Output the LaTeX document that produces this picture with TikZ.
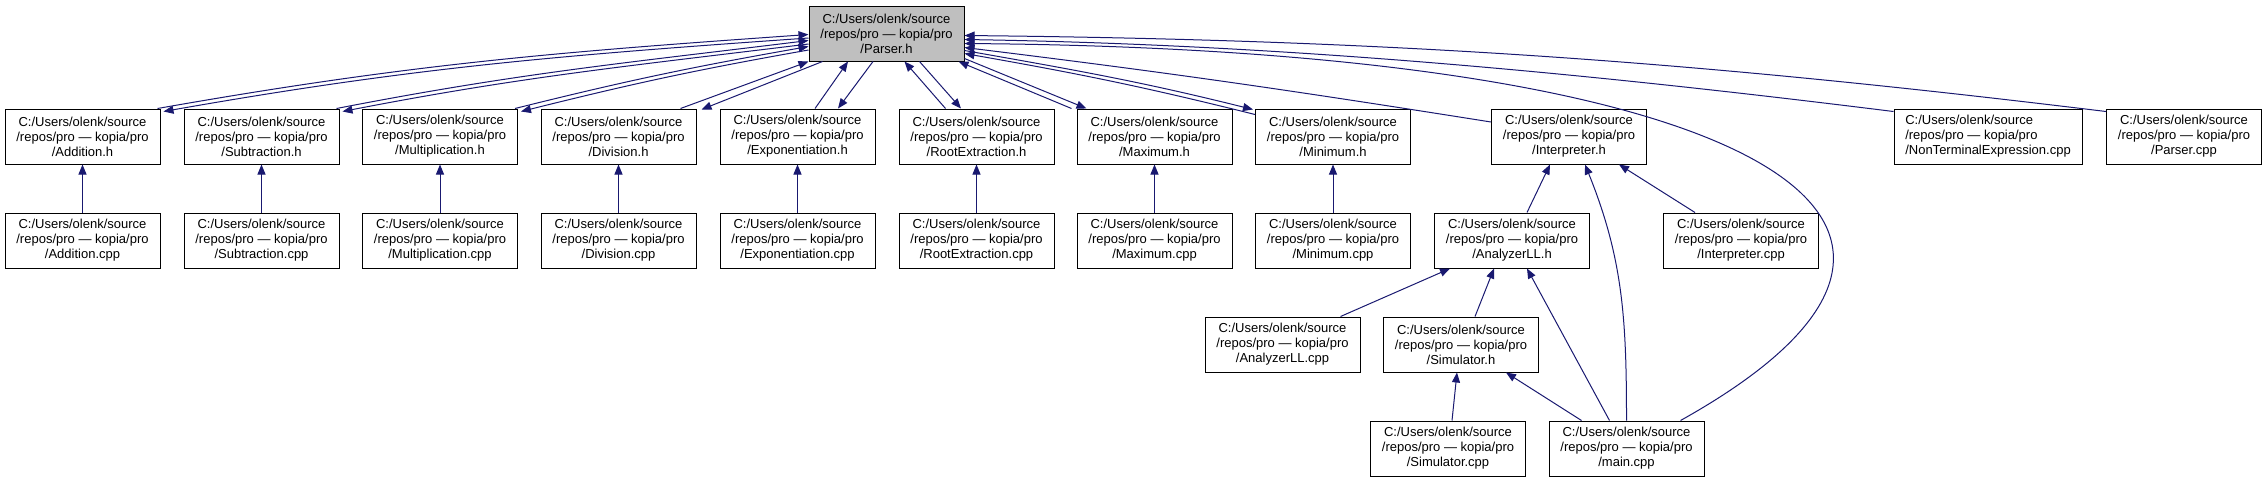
\documentclass[tikz,border=0pt]{standalone}
\usepackage{fontspec}
\setmainfont{Liberation Sans}
\usetikzlibrary{arrows.meta}
\definecolor{incblue}{HTML}{191970}
\definecolor{parsergray}{HTML}{BFBFBF}
\newcommand{\srcpath}[1]{C:/Users/olenk/source\\/repos/pro — kopia/pro\\/#1}

\begin{document}
\begin{tikzpicture}[x=1pt,y=-1pt,
  srcbox/.style={draw=black,line width=1pt,fill=white,minimum width=155pt,minimum height=55pt,
    inner sep=0pt,align=center,font=\fontsize{13}{15}\selectfont},
  incl/.style={draw=incblue,line width=1pt,-{Triangle[length=10pt,width=8pt]}}]
\useasboundingbox (0,0) rectangle (2267,483);
% Parser.h
 \node[srcbox,fill=parsergray] (parser) at (886.5,33.5) {\srcpath{Parser.h}};
% headers
 \node[srcbox] (addition) at (82.5,136.5) {\srcpath{Addition.h}};
 \node[srcbox] (subtraction) at (261.5,136.5) {\srcpath{Subtraction.h}};
 \node[srcbox] (multiplication) at (440,136.5) {\srcpath{Multiplication.h}};
 \node[srcbox] (division) at (618.5,136.5) {\srcpath{Division.h}};
 \node[srcbox] (exponentiation) at (797.5,136.5) {\srcpath{Exponentiation.h}};
 \node[srcbox] (rootextraction) at (976.5,136.5) {\srcpath{RootExtraction.h}};
 \node[srcbox] (maximum) at (1154.5,136.5) {\srcpath{Maximum.h}};
 \node[srcbox] (minimum) at (1333,136.5) {\srcpath{Minimum.h}};
 \node[srcbox] (interpreterh) at (1569,136.5) {\srcpath{Interpreter.h}};
 \node[srcbox,minimum width=188pt,align=left] (nonterminal) at (1988,136.5) {\srcpath{NonTerminalExpression.cpp}};
 \node[srcbox] (parsercpp) at (2184,136.5) {\srcpath{Parser.cpp}};
% sources
 \node[srcbox] (additioncpp) at (82.5,240.5) {\srcpath{Addition.cpp}};
 \node[srcbox] (subtractioncpp) at (261.5,240.5) {\srcpath{Subtraction.cpp}};
 \node[srcbox] (multiplicationcpp) at (440,240.5) {\srcpath{Multiplication.cpp}};
 \node[srcbox] (divisioncpp) at (618.5,240.5) {\srcpath{Division.cpp}};
 \node[srcbox] (exponentiationcpp) at (797.5,240.5) {\srcpath{Exponentiation.cpp}};
 \node[srcbox] (rootextractioncpp) at (976.5,240.5) {\srcpath{RootExtraction.cpp}};
 \node[srcbox] (maximumcpp) at (1154.5,240.5) {\srcpath{Maximum.cpp}};
 \node[srcbox] (minimumcpp) at (1333,240.5) {\srcpath{Minimum.cpp}};
 \node[srcbox] (analyzerh) at (1512,240.5) {\srcpath{AnalyzerLL.h}};
 \node[srcbox] (interpretercpp) at (1741,240.5) {\srcpath{Interpreter.cpp}};
 \node[srcbox] (analyzercpp) at (1282.5,344.5) {\srcpath{AnalyzerLL.cpp}};
 \node[srcbox] (simulatorh) at (1461,344.5) {\srcpath{Simulator.h}};
 \node[srcbox] (simulatorcpp) at (1448,448.5) {\srcpath{Simulator.cpp}};
 \node[srcbox] (maincpp) at (1626.5,448.5) {\srcpath{main.cpp}};
% Parser.h <-> headers, left
 \draw[incl] ([xshift=-3pt]addition.north east) to[out=10,in=184] ([yshift=-1pt]parser.west);
 \draw[incl] ([yshift=-4.5pt]parser.west) to[out=184,in=10] ([xshift=3pt,yshift=-3pt]addition.north east);
 \draw[incl] ([xshift=-3pt]subtraction.north east) to[out=11,in=187] ([yshift=-7pt]parser.west);
 \draw[incl] ([yshift=-10.5pt]parser.west) to[out=187,in=11] ([xshift=3pt,yshift=-3pt]subtraction.north east);
 \draw[incl] ([xshift=-3pt]multiplication.north east) to[out=14,in=190] ([yshift=-13pt]parser.west);
 \draw[incl] ([yshift=-16.5pt]parser.west) to[out=190,in=14] ([xshift=3pt,yshift=-3pt]multiplication.north east);
% Parser.h <-> headers, below
 \draw[incl] ([xshift=-16pt]division.north east) -- (parser.south west);
 \draw[incl] ([xshift=14pt]parser.south west) -- ([xshift=5pt,yshift=-1pt]division.north east);
 \draw[incl] ([xshift=17.5pt]exponentiation.north) -- ([xshift=-38.5pt]parser.south);
 \draw[incl] ([xshift=-13.5pt]parser.south) -- ([xshift=40.5pt]exponentiation.north);
 \draw[incl] ([xshift=-31pt]rootextraction.north) -- ([xshift=18pt]parser.south);
 \draw[incl] ([xshift=33pt]parser.south) -- ([xshift=-15.5pt]rootextraction.north);
 \draw[incl] ([xshift=-5pt]maximum.north west) -- ([xshift=-6pt]parser.south east);
 \draw[incl] ([yshift=3pt]parser.south east) -- ([xshift=10pt]maximum.north west);
% Parser.h <- right side
 \draw[incl] ([yshift=-6pt]minimum.north west) to[out=166,in=-10] ([yshift=-20pt]parser.east);
 \draw[incl] ([yshift=-17pt]parser.east) to[out=-10,in=166] ([xshift=-2pt,yshift=-1pt]minimum.north west);
 \draw[incl] ([yshift=14.5pt]interpreterh.west) to[out=171,in=-7] ([yshift=-14pt]parser.east);
 \draw[incl] ([yshift=-3pt]nonterminal.north west) .. controls (1600,75) and (1300,45) .. ([yshift=-6pt]parser.east);
 \draw[incl] ([yshift=-3pt]parsercpp.north west) .. controls (1700,62) and (1400,40) .. ([yshift=-2pt]parser.east);
 \draw[incl] ([xshift=-24pt]maincpp.north east) .. controls (2040,220) and (1750,50) .. ([yshift=-10pt]parser.east);
% sources -> headers
 \draw[incl] (additioncpp) -- (addition);
 \draw[incl] (subtractioncpp) -- (subtraction);
 \draw[incl] (multiplicationcpp) -- (multiplication);
 \draw[incl] (divisioncpp) -- (division);
 \draw[incl] (exponentiationcpp) -- (exponentiation);
 \draw[incl] (rootextractioncpp) -- (rootextraction);
 \draw[incl] (maximumcpp) -- (maximum);
 \draw[incl] (minimumcpp) -- (minimum);
% Interpreter.h
 \draw[incl] ([xshift=15pt]analyzerh.north) -- ([xshift=-19pt]interpreterh.south);
 \draw[incl] (maincpp.north) to[out=90,in=-68] ([xshift=16pt]interpreterh.south);
 \draw[incl] ([xshift=-46pt]interpretercpp.north) -- ([xshift=50pt]interpreterh.south);
% AnalyzerLL.h
 \draw[incl] ([xshift=58pt]analyzercpp.north) -- ([xshift=-62pt]analyzerh.south);
 \draw[incl] ([xshift=14pt]simulatorh.north) -- ([xshift=-18pt]analyzerh.south);
 \draw[incl] ([xshift=-17pt]maincpp.north) -- ([xshift=15pt]analyzerh.south);
% Simulator.h
 \draw[incl] ([xshift=4pt]simulatorcpp.north) -- ([xshift=-4pt]simulatorh.south);
 \draw[incl] ([xshift=-45pt]maincpp.north) -- ([xshift=45pt]simulatorh.south);
\end{tikzpicture}
\end{document}
